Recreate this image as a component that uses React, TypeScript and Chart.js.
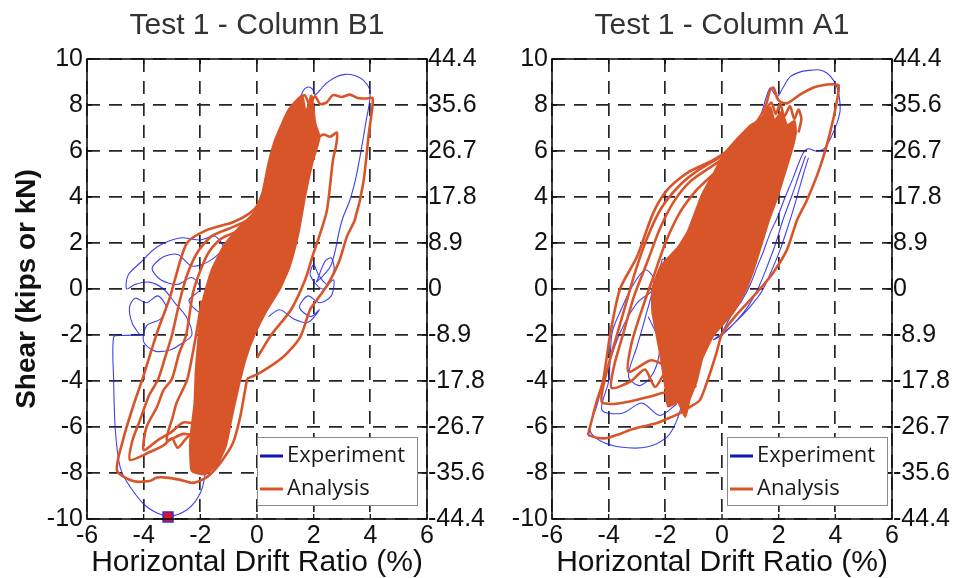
import React, { useEffect, useRef } from 'react';
import { Chart, registerables } from 'chart.js';

Chart.register(...registerables);

type Pt = [number, number];

// ---------- axes / labels ----------
const panelTitles = ['Test 1 - Column B1', 'Test 1 - Column A1'];
const xTitle = 'Horizontal Drift Ratio (%)';
const yTitle = 'Shear (kips or kN)';
const legendLabels = ['Experiment', 'Analysis'];
const xTicks = [-6, -4, -2, 0, 2, 4, 6];
const yTicksKips = [10, 8, 6, 4, 2, 0, -2, -4, -6, -8, -10];
const yTicksKN = ['44.4', '35.6', '26.7', '17.8', '8.9', '0', '-8.9', '-17.8', '-26.7', '-35.6', '-44.4'];

// ---------- Column B1 : analysis ----------
const b1AnaCore: Pt[] = [
  [1.0, 7.5], [1.3, 7.95], [1.6, 8.35], [1.72, 7.6], [1.92, 8.4], [2.05, 7.2],
  [2.2, 6.6], [1.95, 5.5], [1.7, 4.1], [1.45, 2.4], [1.15, 1.0], [0.8, 0.0],
  [0.3, -1.0], [-0.1, -2.0], [-0.4, -3.0], [-0.65, -4.2], [-0.9, -5.6],
  [-1.1, -6.8], [-1.4, -7.6], [-1.85, -8.05], [-2.3, -7.9], [-2.35, -6.6], [-2.2, -5.0],
  [-2.15, -3.5], [-2.05, -2.0], [-1.9, -0.5], [-1.6, 0.8], [-1.15, 1.9], [-0.6, 2.7],
  [-0.1, 3.3], [0.2, 4.2], [0.4, 5.4], [0.65, 6.5], [1.0, 7.5],
];
const b1AnaOuter: Pt[] = [
  [-0.35, -3.9], [-0.45, -4.6], [-0.6, -5.6], [-0.85, -6.7], [-1.3, -7.57], [-1.76, -8.17],
  [-2.26, -8.43], [-2.7, -8.3], [-3.2, -8.2], [-3.53, -8.2], [-3.8, -8.35], [-4.37, -8.35],
  [-4.94, -7.9], [-4.73, -6.57], [-4.38, -5.13], [-4.02, -3.83], [-3.53, -1.91], [-3.07, -0.35],
  [-2.9, 0.4], [-2.47, 2.0], [-1.76, 2.57], [-0.85, 2.9], [-0.25, 3.3], [0.05, 3.7],
  [0.35, 4.6], [0.7, 6.3], [1.06, 7.65], [1.4, 8.2], [1.68, 8.42], [1.85, 8.05],
  [2.05, 8.38], [2.22, 8.05], [2.45, 8.1], [2.68, 8.43], [3.0, 8.35], [3.28, 8.45],
  [3.55, 8.3], [3.85, 8.28], [4.08, 8.3], [4.04, 7.6], [3.95, 6.8], [3.75, 4.6],
  [3.45, 3.0], [3.18, 2.3], [2.9, 1.2], [2.5, 0.2], [2.1, -0.5], [1.87, -0.9],
  [1.52, -2.1], [0.92, -2.96], [0.1, -3.65], [-0.35, -3.9],
];
const b1AnaShelf: Pt[] = [
  [1.9, 5.4], [2.1, 6.5], [2.35, 6.72], [2.58, 6.62], [2.82, 6.8], [2.8, 6.3], [2.68, 5.6],
  [2.47, 3.43], [2.2, 2.3], [1.98, 1.5], [1.7, 0.4], [1.2, -0.9], [0.5, -2.0], [0.0, -3.0],
];
const b1AnaInnerA: Pt[] = [
  [-1.9, -6.9], [-2.2, -6.2], [-2.5, -6.5], [-2.8, -6.9], [-3.0, -6.5], [-3.3, -6.8], [-3.8, -7.1],
  [-4.48, -7.43], [-4.4, -6.6], [-4.13, -5.7], [-3.8, -4.6], [-3.5, -3.96], [-3.25, -3.0], [-3.0, -2.0],
  [-2.72, -0.48], [-2.47, 0.6], [-2.1, 1.6], [-1.6, 2.3], [-1.0, 2.62], [-0.4, 2.95], [0.0, 3.4],
];
const b1AnaInnerB: Pt[] = [
  [-2.0, -5.9], [-2.6, -5.8], [-3.0, -6.2], [-3.53, -6.6], [-4.0, -7.0], [-3.9, -6.0], [-3.53, -5.13],
  [-3.3, -4.4], [-3.0, -3.9], [-2.75, -2.8], [-2.5, -2.0], [-2.26, -0.17], [-2.0, 0.8], [-1.7, 1.6],
  [-1.25, 2.2], [-0.7, 2.5], [-0.3, 2.8],
];
const b1AnaInnerC: Pt[] = [
  [-2.1, -6.4], [-2.6, -6.3], [-3.18, -6.57], [-2.96, -5.5], [-2.84, -4.96], [-2.47, -3.96],
  [-2.3, -3.0], [-2.12, -1.78], [-1.95, -0.5],
];

// ---------- Column B1 : experiment ----------
const b1ExpRight: Pt[] = [
  [0.6, 3.5], [0.9, 5.0], [1.2, 6.6], [1.45, 7.9], [1.62, 8.6], [1.8, 8.78], [1.95, 8.7], [2.05, 8.45],
  [2.2, 8.62], [2.45, 8.95], [2.75, 9.2], [3.1, 9.33], [3.45, 9.28], [3.75, 9.08], [3.97, 8.7], [3.98, 8.2],
  [3.85, 7.3], [3.7, 6.2], [3.5, 4.9], [3.28, 3.87], [3.04, 3.13], [2.9, 2.5], [2.75, 1.6], [2.6, 1.0],
  [2.35, 0.6], [2.1, 0.3],
];
const b1ExpCurls: Pt[] = [
  [2.1, 0.3], [2.4, 1.2], [2.62, 1.35], [2.72, 0.85], [2.5, 0.2], [2.2, 0.55], [2.0, 1.05], [1.88, 0.6],
  [2.3, 0.0], [2.7, 0.4], [2.62, -0.3], [2.2, -0.6], [1.8, -0.3], [1.5, -0.8], [1.9, -1.2], [2.2, -0.9],
  [1.8, -1.45], [1.3, -1.3], [0.8, -0.9], [0.4, -1.2],
];
const b1ExpLower: Pt[] = [
  [-1.55, -4.0], [-1.68, -5.5], [-1.76, -6.57], [-1.83, -8.0], [-2.0, -8.87], [-2.47, -9.6],
  [-3.14, -9.88], [-3.88, -9.48], [-4.48, -8.6], [-4.83, -7.74], [-5.0, -6.13], [-5.06, -3.96],
  [-5.06, -2.09], [-4.8, -2.02], [-4.13, -2.0],
];
const b1ExpLoops: Pt[] = [
  [-4.13, -2.0], [-4.4, -1.5], [-4.5, -0.8], [-4.3, -0.4], [-3.9, -0.6], [-3.5, -0.3], [-3.2, -0.8],
  [-3.4, -1.3], [-3.9, -1.6], [-4.0, -2.3], [-3.6, -2.7], [-3.07, -2.65], [-2.7, -2.4], [-2.3, -2.0],
  [-2.5, -1.2], [-2.9, -0.6], [-3.3, 0.0], [-3.8, 0.3], [-4.3, 0.2], [-4.6, 0.0], [-4.55, 0.6],
  [-4.13, 1.13], [-3.53, 1.83], [-2.72, 2.22], [-2.0, 2.13], [-1.5, 2.3], [-1.2, 1.8], [-1.7, 1.2],
  [-2.3, 1.0], [-2.8, 1.5], [-3.3, 1.4], [-3.7, 0.9], [-3.4, 0.4], [-2.8, 0.2], [-2.3, 0.5],
  [-2.0, 0.0], [-2.4, -0.5], [-2.0, -1.0], [-1.7, -0.4], [-1.5, 0.4],
];
const b1Marker: Pt[] = [[-3.14, -9.91]];

// ---------- Column A1 : analysis ----------
const a1AnaCore: Pt[] = [
  [0.6, 6.6], [1.0, 7.1], [1.4, 7.4], [1.7, 7.9], [1.85, 7.3], [2.1, 7.7], [2.3, 7.1], [2.55, 7.3],
  [2.6, 6.8], [2.45, 6.0], [2.2, 5.0], [1.95, 4.0], [1.65, 3.0], [1.4, 2.0], [1.15, 1.0], [0.85, 0.0],
  [0.4, -1.0], [-0.3, -2.0], [-0.7, -3.0], [-0.9, -4.0], [-1.15, -4.8], [-1.3, -5.55], [-1.55, -4.9],
  [-1.9, -5.1], [-2.0, -4.2], [-2.15, -3.0], [-2.3, -2.0], [-2.45, -1.0], [-2.45, 0.0], [-2.15, 1.0],
  [-1.55, 1.8], [-1.2, 2.5], [-0.95, 3.3], [-0.7, 4.1], [-0.3, 5.0], [0.1, 5.9], [0.6, 6.6],
];
const a1AnaSpikes: Pt[] = [
  [1.3, 7.0], [1.6, 7.9], [1.75, 8.1], [1.9, 7.6], [2.05, 8.05], [2.2, 7.5], [2.4, 7.95], [2.55, 7.4],
  [2.7, 7.8], [2.8, 7.4], [2.7, 6.8],
];
const a1AnaOuter: Pt[] = [
  [-4.73, -6.35], [-4.4, -6.47], [-4.06, -6.48], [-3.6, -6.3], [-3.25, -6.13], [-2.8, -5.98],
  [-2.3, -5.83], [-1.85, -5.6], [-1.48, -5.4], [-1.1, -5.1], [-0.78, -4.83], [-0.49, -3.9],
  [-0.2, -2.8], [0.0, -1.95], [0.46, -1.2], [0.9, -0.6], [1.34, 0.0], [1.8, 0.7], [2.29, 1.7],
  [2.65, 3.0], [3.0, 3.87], [3.46, 5.3], [3.81, 6.78], [4.06, 8.2], [4.12, 8.85], [3.92, 8.9],
  [3.5, 8.85], [3.21, 8.75], [2.75, 8.45], [2.3, 8.08], [2.05, 8.15], [1.95, 8.3], [1.82, 8.75],
  [1.7, 8.65], [1.55, 8.0], [1.3, 7.4], [0.9, 6.8], [0.39, 6.17], [-0.32, 5.6], [-1.24, 5.04],
  [-1.94, 4.3], [-2.43, 3.3], [-3.0, 1.4], [-3.6, 0.0], [-3.95, -2.0], [-4.2, -4.0], [-4.45, -5.0],
  [-4.73, -6.35],
];
const a1AnaInnerA: Pt[] = [
  [-0.9, -4.2], [-1.5, -4.6], [-2.0, -4.5], [-2.6, -4.7], [-3.3, -4.9], [-3.9, -5.0], [-4.25, -4.9],
  [-4.15, -4.0], [-3.85, -2.6], [-3.45, -0.9], [-3.05, 0.8], [-2.65, 2.2], [-2.15, 3.5], [-1.5, 4.5],
  [-0.8, 5.2], [-0.1, 5.7], [0.5, 6.2],
];
const a1AnaInnerB: Pt[] = [
  [-1.2, -4.0], [-1.7, -3.7], [-2.0, -3.65], [-2.36, -4.26], [-2.72, -3.5], [-3.2, -4.0], [-3.9, -4.3],
  [-3.8, -3.3], [-3.5, -2.0], [-3.1, -0.3], [-2.61, 1.26], [-2.2, 2.6], [-1.7, 3.8], [-1.1, 4.7],
  [-0.4, 5.3], [0.2, 5.8],
];
const a1AnaInnerC: Pt[] = [
  [-1.0, -3.2], [-1.8, -3.4], [-2.5, -3.1], [-3.3, -3.6], [-3.2, -2.4], [-2.8, -0.8], [-2.4, 0.6],
  [-2.0, 2.0], [-1.5, 3.3], [-0.9, 4.3], [-0.3, 5.0],
];

// ---------- Column A1 : experiment ----------
const a1ExpTop: Pt[] = [
  [1.0, 6.0], [1.3, 7.2], [1.55, 8.3], [1.7, 8.74], [1.82, 8.55], [1.95, 8.35], [2.15, 8.75],
  [2.4, 9.22], [2.8, 9.45], [3.21, 9.52], [3.46, 9.52], [3.7, 9.39], [3.95, 9.05], [4.1, 8.6],
  [4.17, 7.78], [4.06, 7.22], [3.85, 6.6], [3.6, 6.1], [3.3, 6.0], [3.05, 6.1], [2.86, 5.9],
  [2.5, 4.8], [2.2, 3.9], [1.95, 3.1], [1.7, 2.43], [1.45, 1.6], [1.24, 0.96], [1.0, 0.2],
  [0.7, -0.5], [0.3, -1.2], [-0.07, -2.09],
];
const a1ExpBand: Pt[] = [
  [2.95, 5.8], [2.7, 4.9], [2.45, 4.0], [2.15, 3.0], [1.9, 2.0], [1.6, 1.0], [1.3, 0.1], [0.95, -0.7],
  [0.5, -1.4], [0.0, -2.0], [-0.3, -2.2], [0.2, -1.75], [0.75, -1.1], [1.1, -0.61], [1.41, -0.1],
  [1.75, 0.8], [2.05, 1.7], [2.35, 2.8], [2.6, 3.8], [2.85, 4.9], [3.05, 5.7],
];
const a1ExpLower: Pt[] = [
  [-1.3, -4.5], [-1.59, -5.7], [-1.94, -6.43], [-2.65, -6.87], [-3.6, -6.87], [-4.3, -6.6],
  [-4.66, -6.13], [-4.4, -5.0], [-4.06, -3.52], [-3.6, -1.91], [-3.0, -0.61], [-2.43, -0.04],
  [-2.2, 0.6], [-2.1, 1.3], [-1.8, 1.0], [-1.6, 0.2],
];
const a1ExpLoops: Pt[] = [
  [-1.6, -5.0], [-2.2, -5.5], [-2.82, -4.96], [-3.53, -5.4], [-4.24, -5.26], [-4.0, -4.0],
  [-3.88, -1.91], [-3.6, -1.0], [-3.18, 0.09], [-2.72, 0.83], [-2.4, 0.4], [-2.7, -1.2],
  [-3.0, -2.5], [-3.3, -3.8], [-2.9, -4.2], [-2.4, -3.6], [-2.2, -2.4], [-2.6, -1.2],
];

// ---------- styling ----------
const FONT = "'Liberation Sans', Arial, Helvetica, sans-serif";
const ORANGE = '#d8552a';
const BLUE = 'rgba(30,30,235,0.85)';
const BLUE_LEGEND = '#1212b8';
const GRID = '#262626';

const toXY = (arr: Pt[]) => arr.map(([x, y]) => ({ x, y }));

const orangeLine = (arr: Pt[]) => ({
  data: toXY(arr), showLine: true, borderColor: ORANGE, backgroundColor: ORANGE,
  borderWidth: 2.6, pointRadius: 0, tension: 0.25, fill: false, order: 1,
});
const orangeShape = (arr: Pt[]) => ({
  data: toXY(arr), showLine: true, borderColor: ORANGE, backgroundColor: ORANGE,
  borderWidth: 2.6, pointRadius: 0, tension: 0.15, fill: 'shape', order: 1,
});
const blueLine = (arr: Pt[]) => ({
  data: toXY(arr), showLine: true, borderColor: BLUE, backgroundColor: BLUE,
  borderWidth: 1.1, pointRadius: 0, tension: 0.3, fill: false, order: 2,
});

function framePlugin(legendRight: number) {
  return {
    id: 'frame' + legendRight,
    afterDraw(chart: any) {
      const { ctx, chartArea: a } = chart;
      const xs = chart.scales.x;
      const ys = chart.scales.y;
      ctx.save();
      ctx.strokeStyle = '#111';
      ctx.lineWidth = 1.3;
      ctx.beginPath();
      xTicks.forEach((v) => {
        const p = xs.getPixelForValue(v);
        ctx.moveTo(p, a.top); ctx.lineTo(p, a.top + 5);
        ctx.moveTo(p, a.bottom); ctx.lineTo(p, a.bottom - 5);
      });
      yTicksKips.forEach((v) => {
        const p = ys.getPixelForValue(v);
        ctx.moveTo(a.left, p); ctx.lineTo(a.left + 5, p);
        ctx.moveTo(a.right, p); ctx.lineTo(a.right - 5, p);
      });
      ctx.stroke();
      ctx.lineWidth = 1.6;
      ctx.strokeRect(a.left, a.top, a.right - a.left, a.bottom - a.top);

      // legend
      const w = 160, h = 68;
      const lx = Math.round(a.right - legendRight - w);
      const ly = Math.round(a.bottom - 14 - h);
      ctx.fillStyle = '#fff';
      ctx.fillRect(lx, ly, w, h);
      ctx.strokeStyle = '#8a8a8a';
      ctx.lineWidth = 1;
      ctx.strokeRect(lx + 0.5, ly + 0.5, w, h);
      const colors = [BLUE_LEGEND, ORANGE];
      const rows = [19, 52];
      legendLabels.forEach((lab, i) => {
        const yy = ly + rows[i];
        ctx.strokeStyle = colors[i];
        ctx.lineWidth = 3;
        ctx.beginPath();
        ctx.moveTo(lx + 3, yy); ctx.lineTo(lx + 26, yy);
        ctx.stroke();
        ctx.fillStyle = '#1a1a1a';
        ctx.font = "22px 'Open Sans', 'Liberation Sans', sans-serif";
        ctx.textAlign = 'left';
        ctx.textBaseline = 'middle';
        ctx.fillText(lab, lx + 30, yy);
      });
      ctx.restore();
    },
  };
}

function makeConfig(panel: number): any {
  const isLeft = panel === 0;
  const datasets: any[] = isLeft
    ? [
        { data: toXY(b1Marker), showLine: false, pointStyle: 'rect', pointRadius: 7, clip: false,
          backgroundColor: '#e01030', borderColor: '#3030c0', borderWidth: 1.5, order: 0 },
        orangeShape(b1AnaCore), orangeLine(b1AnaOuter), orangeLine(b1AnaShelf),
        orangeLine(b1AnaInnerA), orangeLine(b1AnaInnerB), orangeLine(b1AnaInnerC),
        blueLine(b1ExpRight), blueLine(b1ExpCurls), blueLine(b1ExpLower), blueLine(b1ExpLoops),
      ]
    : [
        orangeShape(a1AnaCore), orangeLine(a1AnaSpikes), orangeLine(a1AnaOuter),
        orangeLine(a1AnaInnerA), orangeLine(a1AnaInnerB), orangeLine(a1AnaInnerC),
        blueLine(a1ExpTop), blueLine(a1ExpBand), blueLine(a1ExpLower), blueLine(a1ExpLoops),
      ];

  const gridCommon = { color: GRID, lineWidth: 1.7, drawTicks: false };
  const borderCommon = { display: false, dash: [13, 9] };
  const tickFont = { family: FONT, size: 25 };

  return {
    type: 'scatter',
    data: { datasets },
    options: {
      responsive: false,
      animation: false,
      devicePixelRatio: 1,
      layout: { padding: 0 },
      plugins: {
        legend: { display: false },
        tooltip: { enabled: false },
        title: {
          display: true,
          text: panelTitles[panel],
          color: '#333',
          font: { family: FONT, size: 30, weight: 'normal' },
          padding: { top: 8, bottom: 15 },
          fullSize: false,
        },
      },
      scales: {
        x: {
          type: 'linear', min: -6, max: 6,
          afterBuildTicks: (s: any) => { s.ticks = xTicks.map((v) => ({ value: v })); },
          ticks: { font: tickFont, color: '#111', padding: 2, maxRotation: 0, autoSkip: false,
            callback: (v: any) => String(v) },
          grid: gridCommon,
          border: borderCommon,
          title: { display: true, text: xTitle, color: '#111',
            font: { family: FONT, size: 30, lineHeight: 1 }, padding: { top: 0, bottom: 0 } },
          afterFit: (s: any) => { s.height = 59; },
        },
        y: {
          type: 'linear', position: 'left', min: -10, max: 10,
          afterBuildTicks: (s: any) => { s.ticks = yTicksKips.map((v) => ({ value: v })); },
          ticks: { font: tickFont, color: '#111', padding: 4, autoSkip: false,
            callback: (v: any) => String(v) },
          grid: gridCommon,
          border: borderCommon,
          title: { display: isLeft, text: yTitle, color: '#111',
            font: { family: FONT, size: 28, weight: 'bold' }, padding: { top: 10, bottom: 0 } },
          afterFit: (s: any) => { s.width = isLeft ? 87 : 72; },
        },
        y2: {
          type: 'linear', position: 'right', min: -10, max: 10,
          afterBuildTicks: (s: any) => { s.ticks = yTicksKips.map((v) => ({ value: v })); },
          ticks: { font: tickFont, color: '#111', padding: 1, autoSkip: false,
            callback: (v: any) => { const i = yTicksKips.indexOf(Number(v)); return i >= 0 ? yTicksKN[i] : ''; } },
          grid: { display: false, drawTicks: false },
          border: { display: false },
          afterFit: (s: any) => { s.width = isLeft ? 73 : 68; },
        },
      },
    },
    plugins: [framePlugin(isLeft ? 10 : 5)],
  };
}

export default function App() {
  const ref1 = useRef<HTMLCanvasElement>(null);
  const ref2 = useRef<HTMLCanvasElement>(null);
  useEffect(() => {
    const c1 = new Chart(ref1.current as HTMLCanvasElement, makeConfig(0));
    const c2 = new Chart(ref2.current as HTMLCanvasElement, makeConfig(1));
    return () => { c1.destroy(); c2.destroy(); };
  }, []);
  return (
    <div style={{ position: 'absolute', left: 0, top: 0, width: 960, height: 578, background: '#fff', overflow: 'hidden' }}>
      <canvas ref={ref2} width={480} height={578} style={{ position: 'absolute', left: 480, top: 0, width: 480, height: 578 }} />
      <canvas ref={ref1} width={500} height={578} style={{ position: 'absolute', left: 0, top: 0, width: 500, height: 578 }} />
    </div>
  );
}
